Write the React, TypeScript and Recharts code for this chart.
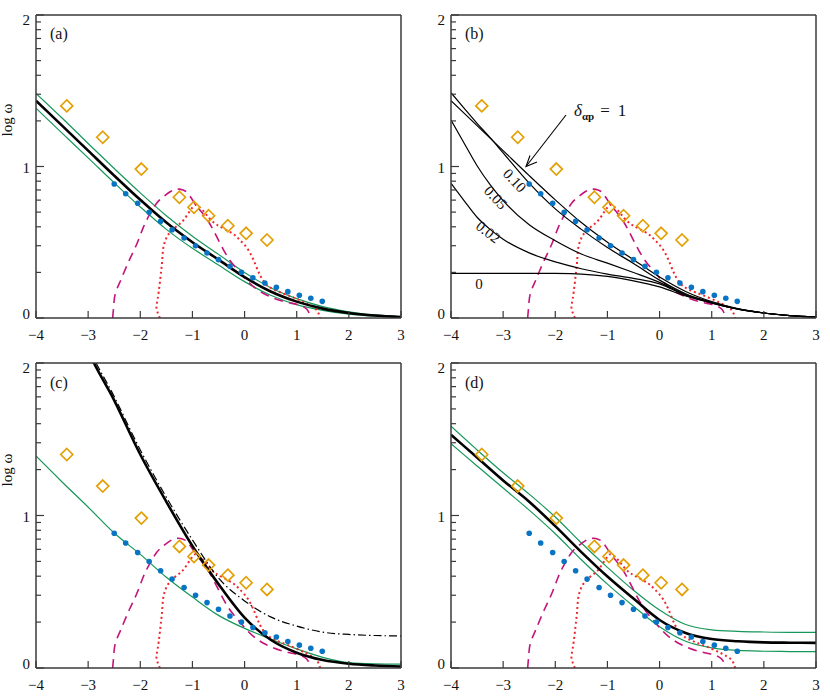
import React from 'react';
import { ComposedChart, Line, Scatter, XAxis, YAxis } from 'recharts';

const AXIS = '#3a3a3a';
const FONT = '"Liberation Serif", "DejaVu Serif", serif';
const GREEN = '#16975a';
const ORANGE = '#e3a005';
const BLUE = '#0a74c4';
const MAGENTA = '#c4147a';
const RED = '#f0282d';

// observed points, same in every panel
const diamondX = [-3.41, -2.72, -1.98, -1.25, -0.97, -0.69, -0.32, 0.03, 0.43];
const diamondY = [1.4, 1.193, 0.983, 0.797, 0.731, 0.675, 0.609, 0.559, 0.515];
const dotX = [-2.5, -2.28, -2.05, -1.83, -1.61, -1.39, -1.16, -0.94, -0.72, -0.5, -0.28, -0.06, 0.16, 0.39, 0.61, 0.83, 1.05, 1.27, 1.49];
const dotY = [0.884, 0.82, 0.757, 0.698, 0.638, 0.583, 0.528, 0.477, 0.429, 0.385, 0.341, 0.302, 0.266, 0.231, 0.203, 0.174, 0.15, 0.13, 0.11];

// dashed (magenta) and dotted (red) profiles
const dashX = [-2.53, -2.51, -2.48, -2.4, -2.32, -2.2, -2.065, -1.94, -1.81, -1.68, -1.56, -1.42, -1.3, -1.18, -1.08, -0.98, -0.85, -0.72, -0.6, -0.45, -0.3, -0.15, 0, 0.17, 0.42, 0.74, 1.0, 1.15, 1.22, 1.27];
const dashY = [0, 0.08, 0.16, 0.23, 0.295, 0.39, 0.49, 0.6, 0.69, 0.76, 0.8, 0.835, 0.85, 0.845, 0.82, 0.77, 0.71, 0.65, 0.58, 0.48, 0.39, 0.325, 0.265, 0.207, 0.152, 0.11, 0.09, 0.07, 0.045, 0];
const dottedX = [-1.625, -1.66, -1.69, -1.665, -1.63, -1.6, -1.58, -1.56, -1.52, -1.465, -1.34, -1.2, -1.1, -1.0, -0.92, -0.8, -0.68, -0.55, -0.4, -0.22, -0.09, 0.07, 0.2, 0.3, 0.42, 0.55, 0.7, 0.94, 1.19, 1.36, 1.42, 1.45];
const dottedY = [0, 0.03, 0.07, 0.13, 0.22, 0.31, 0.38, 0.46, 0.51, 0.55, 0.595, 0.635, 0.68, 0.73, 0.745, 0.71, 0.66, 0.62, 0.59, 0.555, 0.515, 0.45, 0.36, 0.28, 0.22, 0.19, 0.168, 0.135, 0.095, 0.06, 0.03, 0];

// model curves
const modelX = [-4, -3.5, -3, -2.5, -2, -1.5, -1, -0.5, 0, 0.5, 1, 1.5, 2, 2.5, 3];
const blackA = [1.435, 1.27, 1.105, 0.94, 0.78, 0.63, 0.5, 0.385, 0.27, 0.175, 0.108, 0.062, 0.033, 0.016, 0.006];
const greenAUp = [1.483, 1.32, 1.152, 0.987, 0.826, 0.675, 0.54, 0.42, 0.3, 0.2, 0.128, 0.075, 0.041, 0.02, 0.008];
const greenALo = [1.385, 1.22, 1.057, 0.892, 0.733, 0.585, 0.46, 0.35, 0.24, 0.15, 0.088, 0.05, 0.026, 0.012, 0.004];

const deltaX = [-4, -3.75, -3.5, -3.25, -3, -2.5, -2, -1.5, -1, -0.5, 0, 0.5, 1, 1.5, 2, 2.5, 3];
const delta010 = [1.487, 1.385, 1.285, 1.19, 1.09, 0.89, 0.72, 0.585, 0.465, 0.36, 0.25, 0.16, 0.104, 0.06, 0.033, 0.016, 0.006];
const delta005 = [1.307, 1.155, 1.005, 0.88, 0.775, 0.615, 0.51, 0.422, 0.362, 0.3, 0.235, 0.155, 0.102, 0.06, 0.033, 0.016, 0.006];
const delta002 = [0.889, 0.775, 0.665, 0.585, 0.52, 0.43, 0.37, 0.325, 0.29, 0.262, 0.225, 0.15, 0.1, 0.059, 0.033, 0.016, 0.006];
const delta0 = [0.295, 0.295, 0.295, 0.295, 0.295, 0.295, 0.294, 0.29, 0.275, 0.245, 0.205, 0.145, 0.098, 0.058, 0.033, 0.016, 0.006];

const blackCX = [-3.2, -3, -2.5, -2, -1.5, -1, -0.5, 0, 0.5, 1, 1.5, 2, 2.5, 3];
const blackC = [2.25, 2.08, 1.755, 1.4, 1.09, 0.8, 0.55, 0.33, 0.185, 0.1, 0.052, 0.028, 0.016, 0.009];
const dashDotC = [2.28, 2.11, 1.78, 1.43, 1.12, 0.84, 0.59, 0.44, 0.335, 0.275, 0.235, 0.22, 0.213, 0.21];
const greenC = [1.39, 1.22, 1.055, 0.885, 0.745, 0.595, 0.465, 0.345, 0.26, 0.19, 0.125, 0.07, 0.035, 0.027, 0.025];

const blackD = [1.53, 1.38, 1.23, 1.09, 0.93, 0.76, 0.6, 0.455, 0.315, 0.23, 0.19, 0.175, 0.168, 0.166, 0.165];
const greenDUp = [1.585, 1.43, 1.28, 1.14, 0.99, 0.82, 0.66, 0.51, 0.38, 0.285, 0.25, 0.24, 0.236, 0.234, 0.234];
const greenDLo = [1.47, 1.325, 1.18, 1.035, 0.88, 0.71, 0.55, 0.405, 0.27, 0.175, 0.132, 0.115, 0.11, 0.108, 0.107];

const xTicks = [-4, -3, -2, -1, 0, 1, 2, 3];
const yTicks: number[] = [];
[0, 1].forEach((k) => {
  yTicks.push(k);
  for (let m = 2; m <= 9; m++) yTicks.push(k + Math.log10(m));
});
yTicks.push(2);

const pts = (xs: number[], ys: number[]) => xs.map((x, i) => ({ x, y: ys[i] }));

const isMajor = (v: number) => Math.abs(v - Math.round(v)) < 1e-6;
const fmt = (v: number) => (v < 0 ? `\u2212${Math.abs(v)}` : `${v}`);
const yShift: Record<number, number> = { 0: 1, 1: 6, 2: 10 };

const LeftTick = ({ x, y, payload }: any) => {
  const v = payload.value;
  const major = isMajor(v);
  return (
    <g>
      <line x1={x} x2={x + (major ? 8 : 5)} y1={y} y2={y} stroke={AXIS} strokeWidth={1.2} />
      {major && (
        <text x={x - 6} y={y + yShift[Math.round(v)]} textAnchor="end" fontSize={15} fontFamily={FONT} fill="#111">
          {fmt(Math.round(v))}
        </text>
      )}
    </g>
  );
};

const RightTick = ({ x, y, payload }: any) => {
  const major = isMajor(payload.value);
  return <line x1={x - (major ? 8 : 5)} x2={x} y1={y} y2={y} stroke={AXIS} strokeWidth={1.2} />;
};

const BottomTick = ({ x, y, payload }: any) => (
  <g>
    <line x1={x} x2={x} y1={y - 7} y2={y} stroke={AXIS} strokeWidth={1.2} />
    <text x={x} y={y + 22} textAnchor="middle" fontSize={15} fontFamily={FONT} fill="#111">
      {fmt(payload.value)}
    </text>
  </g>
);

const TopTick = ({ x, y }: any) => <line x1={x} x2={x} y1={y} y2={y + 7} stroke={AXIS} strokeWidth={1.2} />;

const Diamond = ({ cx, cy }: any) => {
  const r = 6;
  return (
    <path
      d={`M${cx},${cy - r}L${cx + r},${cy}L${cx},${cy + r}L${cx - r},${cy}Z`}
      fill="none"
      stroke={ORANGE}
      strokeWidth={1.7}
    />
  );
};

const Dot = ({ cx, cy }: any) => <circle cx={cx} cy={cy} r={2.8} fill={BLUE} />;

const curve = (key: string, data: any[], stroke: string, width: number, extra: any = {}) => (
  <Line
    key={key}
    data={data}
    dataKey="y"
    type="monotone"
    stroke={stroke}
    strokeWidth={width}
    dot={false}
    activeDot={false}
    isAnimationActive={false}
    {...extra}
  />
);

const observed = () => [
  curve('dash', pts(dashX, dashY), MAGENTA, 1.6, { type: 'natural', strokeDasharray: '9 6' }),
  curve('dotted', pts(dottedX, dottedY), RED, 2, { type: 'natural', strokeDasharray: '2 3' }),
  <Scatter key="dots" data={pts(dotX, dotY)} shape={Dot} isAnimationActive={false} />,
  <Scatter key="diamonds" data={pts(diamondX, diamondY)} shape={Diamond} isAnimationActive={false} />,
];

interface PanelProps {
  left: number;
  top: number;
  width: number;
  bottom: number;
  children: React.ReactNode;
}

// axes are 1px thick boxes, so the margins are trimmed by 1 to keep the plot area in place
function Panel({ left, top, width, bottom, children }: PanelProps) {
  return (
    <div style={{ position: 'absolute', left, top, width, height: 345 }}>
      <ComposedChart width={width} height={345} margin={{ top: 14, right: width - 402, bottom: bottom - 1, left: 35 }}>
        <XAxis
          type="number"
          dataKey="x"
          domain={[-4, 3]}
          ticks={xTicks}
          interval={0}
          allowDataOverflow
          height={1}
          tickSize={0}
          tickMargin={0}
          tickLine={false}
          tick={BottomTick}
          axisLine={{ stroke: AXIS, strokeWidth: 1.5 }}
        />
        <XAxis
          xAxisId="top"
          orientation="top"
          type="number"
          domain={[-4, 3]}
          ticks={xTicks}
          interval={0}
          height={1}
          tickSize={0}
          tickMargin={0}
          tickLine={false}
          tick={TopTick}
          axisLine={{ stroke: AXIS, strokeWidth: 1.5 }}
        />
        <YAxis
          type="number"
          dataKey="y"
          domain={[0, 2]}
          ticks={yTicks}
          interval={0}
          allowDataOverflow
          width={1}
          tickSize={0}
          tickMargin={0}
          tickLine={false}
          tick={LeftTick}
          axisLine={{ stroke: AXIS, strokeWidth: 1.5 }}
        />
        <YAxis
          yAxisId="right"
          orientation="right"
          type="number"
          domain={[0, 2]}
          ticks={yTicks}
          interval={0}
          width={1}
          tickSize={0}
          tickMargin={0}
          tickLine={false}
          tick={RightTick}
          axisLine={{ stroke: AXIS, strokeWidth: 1.5 }}
        />
        {children}
      </ComposedChart>
    </div>
  );
}

const txt = { fontFamily: FONT, fill: '#111' };

export default function App() {
  return (
    <div style={{ position: 'absolute', left: 0, top: 0, width: 830, height: 697, overflow: 'hidden', background: '#fff' }}>
      <Panel left={0} top={0} width={420} bottom={27}>
        {[
          curve('gu', pts(modelX, greenAUp), GREEN, 1.2),
          curve('gl', pts(modelX, greenALo), GREEN, 1.2),
          ...observed(),
          curve('bk', pts(modelX, blackA), '#000', 2.6),
        ]}
      </Panel>
      <Panel left={415} top={0} width={415} bottom={27}>
        {[
          ...observed(),
          curve('d1', pts(modelX, blackA), '#000', 1.2),
          curve('d010', pts(deltaX, delta010), '#000', 1.2),
          curve('d005', pts(deltaX, delta005), '#000', 1.2),
          curve('d002', pts(deltaX, delta002), '#000', 1.2),
          curve('d0', pts(deltaX, delta0), '#000', 1.2),
        ]}
      </Panel>
      <Panel left={0} top={348} width={420} bottom={25}>
        {[
          curve('gc', pts(modelX, greenC), GREEN, 1.2),
          ...observed(),
          curve('dd', pts(blackCX, dashDotC), '#000', 1.2, { strokeDasharray: '8 3 1.5 3' }),
          curve('bc', pts(blackCX, blackC), '#000', 2.6),
        ]}
      </Panel>
      <Panel left={415} top={348} width={415} bottom={25}>
        {[
          curve('gdu', pts(modelX, greenDUp), GREEN, 1.2),
          curve('gdl', pts(modelX, greenDLo), GREEN, 1.2),
          ...observed(),
          curve('bd', pts(modelX, blackD), '#000', 2.6),
        ]}
      </Panel>

      <svg width={830} height={697} style={{ position: 'absolute', left: 0, top: 0, pointerEvents: 'none' }}>
        <text x={50} y={39} fontSize={16} {...txt}>(a)</text>
        <text x={465} y={39} fontSize={16} {...txt}>(b)</text>
        <text x={50} y={388} fontSize={16} {...txt}>(c)</text>
        <text x={465} y={388} fontSize={16} {...txt}>(d)</text>

        <text transform="translate(12,120) rotate(-90)" textAnchor="middle" fontSize={15} {...txt}>log ω</text>
        <text transform="translate(12,470) rotate(-90)" textAnchor="middle" fontSize={15} {...txt}>log ω</text>

        <line x1={566} y1={115} x2={526} y2={166.5} stroke="#000" strokeWidth={1.1} />
        <polyline points="530,155.5 526,166.5 537,162" fill="none" stroke="#000" strokeWidth={1.1} />
        <text x={574} y={116} fontSize={17} {...txt}>
          <tspan fontStyle="italic">δ</tspan>
          <tspan fontSize={11} dy={4} fontWeight="bold">αp</tspan>
          <tspan dy={-4} dx={6}>=</tspan>
          <tspan dx={8}>1</tspan>
        </text>

        <text transform="translate(511,184) rotate(47)" textAnchor="middle" fontSize={15} {...txt}>0.10</text>
        <text transform="translate(492,201) rotate(47)" textAnchor="middle" fontSize={15} {...txt}>0.05</text>
        <text transform="translate(485,236) rotate(38)" textAnchor="middle" fontSize={15} {...txt}>0.02</text>
        <text x={479} y={289} textAnchor="middle" fontSize={15} {...txt}>0</text>
      </svg>
    </div>
  );
}
